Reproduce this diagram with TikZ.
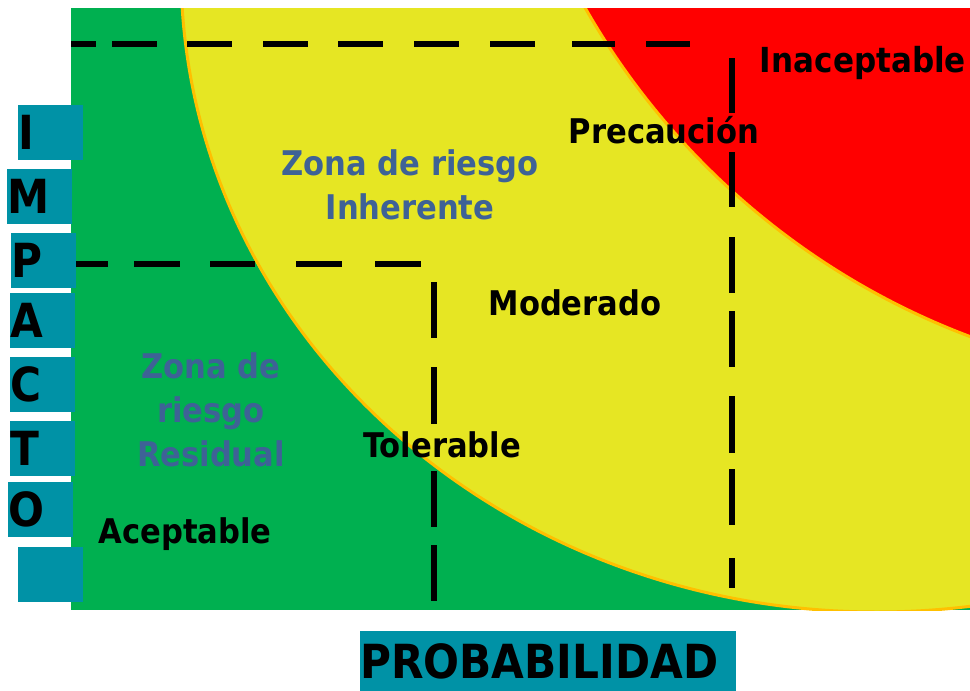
\documentclass[tikz,border=0pt]{standalone}
\usepackage{fontspec}
\setmainfont{DejaVu Sans}[FakeStretch=0.9]
\usepackage{tikz}
\usetikzlibrary{calc,positioning}

\definecolor{zgreen}{RGB}{0,176,80}
\definecolor{zyellow}{RGB}{230,230,35}
\definecolor{zred}{RGB}{255,0,0}
\definecolor{zorange}{RGB}{255,192,0}
\definecolor{zteal}{RGB}{0,146,166}
\definecolor{zblue}{RGB}{62,98,150}

\tikzset{
    lvl/.style={font=\fontsize{34}{44}\selectfont\bfseries, inner sep=0pt},
    zona/.style={lvl, text=zblue, align=center},
    riskline/.style={line width=5.5pt},
    letterbox/.style={fill=zteal, inner sep=0pt, text width=65pt, align=left,
        minimum height=55pt, font=\fontsize{47}{50}\selectfont\bfseries},
}

\begin{document}
\begin{tikzpicture}[x=1pt, y=-1pt]

    \useasboundingbox (0,0) rectangle (970,691);

    % Risk zones.
    \fill[zgreen] (71,8) rectangle (970,610);
    \begin{scope}
        \clip (71,8) rectangle (970,610);
        \fill[zyellow, draw=zorange, line width=3pt] (877,-30)
            ellipse [x radius=696, y radius=642];
        \fill[zred, draw=zorange, line width=3pt] (1232,-360)
            circle [radius=744];
    \end{scope}

    % Inherent risk limits.
    \coordinate (inh-a) at (71,44);
    \coordinate (inh-b) at (690,44);
    \coordinate (inh-c) at (732,58);
    \coordinate (inh-d) at (732,588);
    \draw[riskline, dash pattern=on 25pt off 16pt on 45pt off 30pt on 45pt off 31pt
        on 45pt off 30pt on 45pt off 31pt on 45pt off 31pt on 45pt off 37pt
        on 43pt off 31pt on 44pt] (inh-a) -- (inh-b);
    \draw[riskline, dash pattern=on 55pt off 39pt on 55pt off 30pt on 56pt off 18pt
        on 56pt off 29pt on 57pt off 16pt on 56pt off 33pt on 30pt] (inh-c) -- (inh-d);

    % Residual risk limits.
    \coordinate (res-a) at (73,264);
    \coordinate (res-b) at (421,264);
    \coordinate (res-c) at (434,282);
    \coordinate (res-d) at (434,601);
    \draw[riskline, dash pattern=on 35pt off 26pt on 46pt off 30pt on 45pt off 41pt
        on 46pt off 33pt on 46pt] (res-a) -- (res-b);
    \draw[riskline, dash pattern=on 56pt off 29pt on 57pt off 47pt on 56pt off 18pt
        on 56pt] (res-c) -- (res-d);

    % Levels.
    \node[lvl, anchor=base, font=\fontsize{34.5}{44}\selectfont\bfseries]
        (inacept) at (863,72) {Inaceptable};
    \node[lvl, anchor=base] (precau) at (664,143) {Precaución};
    \node[lvl, anchor=base] (moder) at (575,315) {Moderado};
    \node[lvl, anchor=base] (toler) at (442,457) {Tolerable};
    \node[lvl, anchor=base] (acept) at (185,543) {Aceptable};

    \node[zona, anchor=north] (inher) at (410,149) {Zona de riesgo\\Inherente};
    \node[zona, anchor=north] (resid) at (211,352) {Zona de\\riesgo\\Residual};

    % Axis titles.
    \foreach \x/\y/\l [count=\i] in {18/105/I, 7/169/M, 11/233/P, 10/293/A,
        10/357/C, 10/421/T, 8/482/O, 18/547/{}}
        \node[letterbox, anchor=north west] (imp-\i) at (\x,\y) {\l};

    \node[fill=zteal, anchor=north west, inner sep=0pt, text width=376pt, align=left,
        minimum height=60pt, font=\fontsize{47}{50}\selectfont\bfseries]
        (prob) at (360,631) {PROBABILIDAD};

\end{tikzpicture}
\end{document}
